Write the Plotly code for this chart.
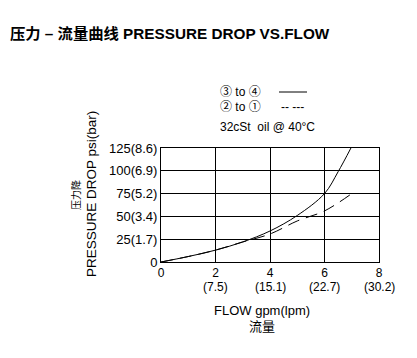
import plotly.graph_objects as go

# Data (flow gpm, pressure drop psi)
flow_34 = [0, 1, 2, 3, 4, 5, 6, 6.5, 6.97]
dp_34 = [0, 6, 13, 22, 34, 51, 75, 99, 125]
flow_21 = [0, 1, 2, 3, 4, 5, 6, 7]
dp_21 = [0, 6, 13, 22, 30.7, 45, 56, 75]

x_tickvals = [0, 2, 4, 6, 8]
x_ticktext = ["0", "2", "4", "6", "8"]
x_lpm_vals = [2, 4, 6, 8]
x_lpm_text = ["(7.5)", "(15.1)", "(22.7)", "(30.2)"]
y_tickvals = [0, 25, 50, 75, 100, 125]
y_ticktext = ["0", "25(1.7)", "50(3.4)", "75(5.2)", "100(6.9)", "125(8.6)"]

FONT = "Liberation Sans, Arial, Noto Sans CJK SC, sans-serif"

OFF = 8  # page body margin
W, H = 417 - OFF, 358 - OFF
L, R, T, B = 161 - OFF, 38, 148 - OFF, 96
pw, ph = W - L - R, H - T - B

def px(x):
    return (x - OFF - L) / pw

def py(y):
    return (H + OFF - B - y) / ph

fig = go.Figure()
fig.add_trace(go.Scatter(x=flow_34, y=dp_34, mode="lines", line=dict(color="black", width=1, shape="spline"),
                         showlegend=False, hoverinfo="skip"))
fig.add_trace(go.Scatter(x=flow_21, y=dp_21, mode="lines", line=dict(color="black", width=1, shape="spline", dash="12px,7px"),
                         showlegend=False, hoverinfo="skip"))

f12 = dict(size=12, color="black", family=FONT)
f13 = dict(size=13, color="black", family=FONT)
annotations = [
    dict(text="<b>压力 – 流量曲线 PRESSURE DROP VS.FLOW</b>", x=px(8), y=py(33), xanchor="left", yanchor="middle",
         font=dict(size=15.3, color="black", family=FONT)),
    dict(text="③ to ④", x=px(218), y=py(92), xanchor="left", yanchor="middle", font=f12),
    dict(text="② to ①", x=px(218), y=py(107), xanchor="left", yanchor="middle", font=f12),
    dict(text="-- ---", x=px(279), y=py(107), xanchor="left", yanchor="middle", font=f12),
    dict(text="32cSt  oil @ 40°C", x=px(218), y=py(127), xanchor="left", yanchor="middle", font=f12),
    dict(text="压力降", x=px(76), y=py(195), textangle=-90, xanchor="center", yanchor="middle",
         font=dict(size=10, color="black", family=FONT)),
    dict(text="PRESSURE DROP psi(bar)", x=px(91), y=py(194), textangle=-90, xanchor="center", yanchor="middle",
         font=dict(size=13.5, color="black", family=FONT)),
    dict(text="FLOW gpm(lpm)", x=px(262), y=py(310), xanchor="center", yanchor="middle", font=f13),
    dict(text="流量", x=px(262), y=py(326), xanchor="center", yanchor="middle", font=f13),
]
for v, t in zip(x_lpm_vals, x_lpm_text):
    annotations.append(dict(text=t, x=v, xref="x", y=py(287), xanchor="center", yanchor="middle", font=f12))
for a in annotations:
    a.setdefault("xref", "paper")
    a.update(yref="paper", showarrow=False)

shapes = [dict(type="line", xref="paper", yref="paper", x0=px(279), x1=px(307), y0=py(92), y1=py(92),
               line=dict(color="black", width=1))]

fig.update_layout(
    width=W, height=H,
    margin=dict(l=L, r=R, t=T, b=B),
    paper_bgcolor="white", plot_bgcolor="white",
    font=dict(family=FONT, size=12, color="black"),
    annotations=annotations, shapes=shapes,
    xaxis=dict(range=[0, 8], tickvals=x_tickvals, ticktext=x_ticktext, showgrid=True, gridcolor="black", gridwidth=1,
               showline=True, linecolor="black", linewidth=1, mirror=True, zeroline=False, ticks="",
               tickfont=f12, fixedrange=True),
    yaxis=dict(range=[0, 125], tickvals=y_tickvals, ticktext=y_ticktext, showgrid=True, gridcolor="black", gridwidth=1,
               showline=True, linecolor="black", linewidth=1, mirror=True, zeroline=False, ticks="",
               tickfont=f13, fixedrange=True),
)

fig.write_html("out.html", config={"displayModeBar": False})
